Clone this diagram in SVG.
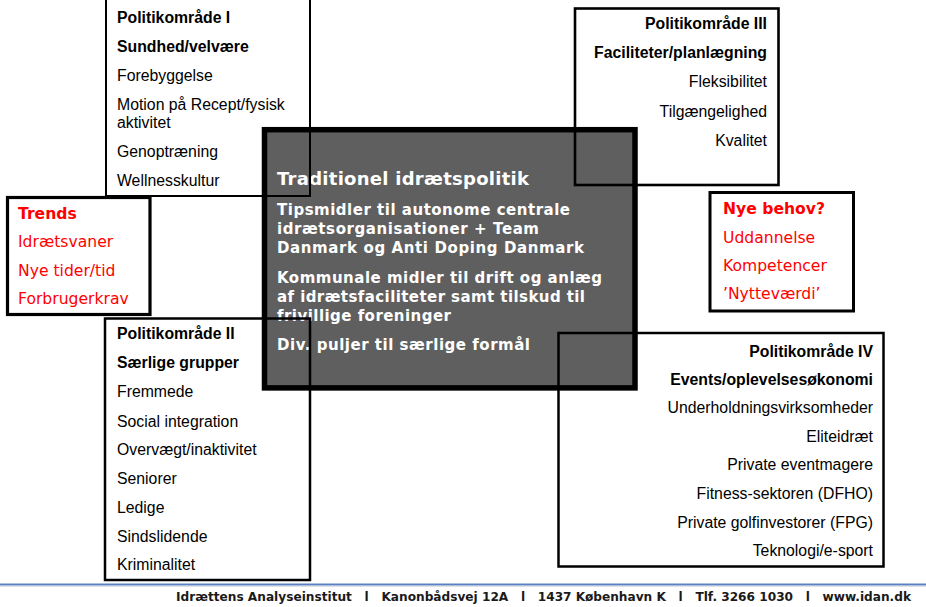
<svg xmlns="http://www.w3.org/2000/svg" width="926" height="607" viewBox="0 0 926 607">
<style>
.box{fill:none;stroke:#000}
.t{font-family:"Liberation Sans",Arial,sans-serif;font-size:15.8px;fill:#000}
.b{font-weight:bold}
.r{text-anchor:end}
.red{font-family:"DejaVu Sans",Verdana,sans-serif;font-size:15.6px;fill:#ff0000}
.w{font-family:"DejaVu Sans",Verdana,sans-serif;font-weight:bold;fill:#fff;font-size:15px}
.foot{font-family:"DejaVu Sans Condensed","DejaVu Sans",Tahoma,sans-serif;font-weight:bold;font-size:13px;fill:#1a1a1a;white-space:pre}
</style>
<rect width="926" height="607" fill="#fff"/>
<g id="central">
<rect x="264.5" y="129.7" width="370.5" height="258.2" fill="#5f5f5f" stroke="#000" stroke-width="5.5"/>
<text class="w" x="277" y="185" style="font-size:18px" textLength="252" lengthAdjust="spacing">Traditionel idrætspolitik</text>
<text class="w" x="277" y="215" textLength="293" lengthAdjust="spacing">Tipsmidler til autonome centrale</text>
<text class="w" x="277" y="234" textLength="262" lengthAdjust="spacing">idrætsorganisationer + Team</text>
<text class="w" x="277" y="253" textLength="307" lengthAdjust="spacing">Danmark og Anti Doping Danmark</text>
<text class="w" x="277" y="283" textLength="325" lengthAdjust="spacing">Kommunale midler til drift og anlæg</text>
<text class="w" x="277" y="302" textLength="308" lengthAdjust="spacing">af idrætsfaciliteter samt tilskud til</text>
<text class="w" x="277" y="321" textLength="174" lengthAdjust="spacing">frivillige foreninger</text>
<text class="w" x="277" y="350" textLength="253" lengthAdjust="spacing">Div. puljer til særlige formål</text>
</g>
<g id="omrade1">
<rect class="box" x="106" y="-2" width="204" height="198" stroke-width="2"/>
<text class="t b" x="117" y="23">Politikområde I</text>
<text class="t b" x="117" y="52">Sundhed/velvære</text>
<text class="t" x="117" y="81">Forebyggelse</text>
<text class="t" x="117" y="110">Motion på Recept/fysisk</text>
<text class="t" x="117" y="128">aktivitet</text>
<text class="t" x="117" y="157">Genoptræning</text>
<text class="t" x="117" y="186">Wellnesskultur</text>
</g>
<g id="trends">
<rect class="box" x="7.5" y="197.5" width="142.5" height="117" stroke-width="3.2"/>
<text class="red b" x="18" y="219">Trends</text>
<text class="red" x="18" y="247">Idrætsvaner</text>
<text class="red" x="18" y="276">Nye tider/tid</text>
<text class="red" x="18" y="304">Forbrugerkrav</text>
</g>
<g id="omrade3">
<rect class="box" x="575" y="8.5" width="203.5" height="176.5" stroke-width="2.6"/>
<text class="t b r" x="767" y="29">Politikområde III</text>
<text class="t b r" x="767" y="58">Faciliteter/planlægning</text>
<text class="t r" x="767" y="87">Fleksibilitet</text>
<text class="t r" x="767" y="117">Tilgængelighed</text>
<text class="t r" x="767" y="146">Kvalitet</text>
</g>
<g id="nyebehov">
<rect class="box" x="710" y="192.5" width="143.5" height="118.5" stroke-width="3"/>
<text class="red b" x="723" y="214">Nye behov?</text>
<text class="red" x="723" y="243">Uddannelse</text>
<text class="red" x="723" y="271">Kompetencer</text>
<text class="red" x="723" y="299">’Nytteværdi’</text>
</g>
<g id="omrade2">
<rect class="box" x="105" y="318.5" width="205" height="261.5" stroke-width="2.5"/>
<text class="t b" x="117" y="339">Politikområde II</text>
<text class="t b" x="117" y="368">Særlige grupper</text>
<text class="t" x="117" y="397">Fremmede</text>
<text class="t" x="117" y="427">Social integration</text>
<text class="t" x="117" y="455">Overvægt/inaktivitet</text>
<text class="t" x="117" y="484">Seniorer</text>
<text class="t" x="117" y="513">Ledige</text>
<text class="t" x="117" y="542">Sindslidende</text>
<text class="t" x="117" y="570">Kriminalitet</text>
</g>
<g id="omrade4">
<rect class="box" x="558.5" y="333" width="325" height="233.5" stroke-width="2.5"/>
<text class="t b r" x="873" y="357">Politikområde IV</text>
<text class="t b r" x="873" y="385">Events/oplevelsesøkonomi</text>
<text class="t r" x="873" y="413">Underholdningsvirksomheder</text>
<text class="t r" x="873" y="442">Eliteidræt</text>
<text class="t r" x="873" y="470">Private eventmagere</text>
<text class="t r" x="873" y="499">Fitness-sektoren (DFHO)</text>
<text class="t r" x="873" y="528">Private golfinvestorer (FPG)</text>
<text class="t r" x="873" y="556">Teknologi/e-sport</text>
</g>
<g id="connectors"></g>
<g id="footer">
<line x1="0" y1="584.5" x2="926" y2="584.5" stroke="#5b80c4" stroke-width="2"/>
<line x1="0" y1="586.5" x2="926" y2="586.5" stroke="#e2e2e2" stroke-width="1"/>
<text class="foot" x="176" y="601" xml:space="preserve" textLength="735" lengthAdjust="spacingAndGlyphs">Idrættens Analyseinstitut   l   Kanonbådsvej 12A   l   1437 København K   l   Tlf. 3266 1030   l   www.idan.dk</text>
</g>
</svg>
